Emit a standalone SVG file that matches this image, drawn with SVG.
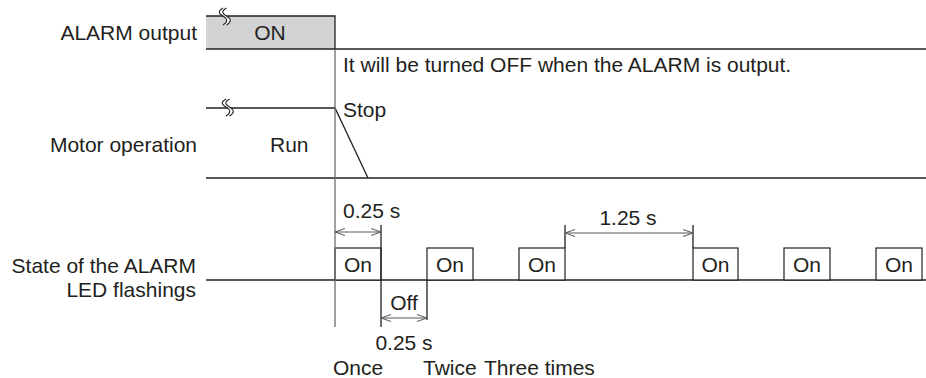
<svg xmlns="http://www.w3.org/2000/svg" width="926" height="378" viewBox="0 0 926 378">
<defs>
<style>
text{font-family:"Liberation Sans",Arial,sans-serif;font-size:21px;fill:#231f20}
.r{text-anchor:end}
.m{text-anchor:middle}
.ln{stroke:#231f20;stroke-width:1.3;fill:none}
.vl{stroke:#6d6e71;stroke-width:1.3;fill:none}
.dim{stroke:#58595b;stroke-width:1;fill:none;marker-start:url(#ah);marker-end:url(#ah)}
.box{fill:#fff;stroke:#231f20;stroke-width:1.2}
.brk{fill:none;stroke:#231f20;stroke-width:1.1}
</style>
<marker id="ah" viewBox="0 0 10 10" refX="10" refY="5" markerWidth="10" markerHeight="10" markerUnits="userSpaceOnUse" orient="auto-start-reverse">
<path d="M0,1.5 L10,5 L0,8.5" fill="none" stroke="#58595b" stroke-width="1"/>
</marker>
</defs>

<g id="labels">
<text class="r" x="197" y="40">ALARM output</text>
<text class="r" x="197" y="152">Motor operation</text>
<text class="r" x="196" y="273">State of the ALARM</text>
<text class="r" x="196" y="297">LED flashings</text>
</g>

<g id="alarm-output">
<rect x="206" y="16" width="129" height="33" fill="#d1d3d4"/>
<path class="ln" d="M206,16 H335 V49"/>
<path class="ln" d="M206,49 H926"/>
<path d="M223,8 c-5,3 -5,5 0,8 c5,3 5,6 0,9 h3.5 c5,-3 5,-6 0,-9 c-5,-3 -5,-5 0,-8 z" fill="#fff"/>
<path class="brk" d="M223,8 c-5,3 -5,5 0,8 c5,3 5,6 0,9 M226.5,8 c-5,3 -5,5 0,8 c5,3 5,6 0,9"/>
<text class="m" x="270" y="40">ON</text>
<text x="343" y="72">It will be turned OFF when the ALARM is output.</text>
</g>

<g id="motor-operation">
<path class="ln" d="M206,108 H335 L368,178"/>
<path class="ln" d="M206,178 H926"/>
<path d="M226,99 c-5,3 -5,5 0,8 c5,3 5,6 0,9 h3.5 c5,-3 5,-6 0,-9 c-5,-3 -5,-5 0,-8 z" fill="#fff"/>
<path class="brk" d="M226,99 c-5,3 -5,5 0,8 c5,3 5,6 0,9 M229.5,99 c-5,3 -5,5 0,8 c5,3 5,6 0,9"/>
<text x="343" y="117">Stop</text>
<text x="270" y="152">Run</text>
</g>

<g id="led-flashing">
<path class="ln" d="M206,280 H926"/>
<rect class="box" x="335" y="248" width="46" height="32"/>
<rect class="box" x="427" y="248" width="46" height="32"/>
<rect class="box" x="519" y="248" width="46" height="32"/>
<rect class="box" x="693" y="248" width="45" height="32"/>
<rect class="box" x="784" y="248" width="46" height="32"/>
<rect class="box" x="876" y="248" width="46" height="32"/>
<text class="m" x="358" y="272">On</text>
<text class="m" x="450" y="272">On</text>
<text class="m" x="542" y="272">On</text>
<text class="m" x="715.5" y="272">On</text>
<text class="m" x="807" y="272">On</text>
<text class="m" x="899" y="272">On</text>
<text class="m" x="404" y="310">Off</text>
</g>

<g id="connectors">
<path class="vl" d="M335,49 V327"/>
<path class="ln" d="M381,225 V327 M427,280 V320 M565,225 V248 M693,225 V248"/>
<path class="dim" d="M335,232 H381"/>
<path class="dim" d="M381,318 H427"/>
<path class="dim" d="M565,233 H693"/>
</g>

<g id="annotations">
<text x="343" y="218">0.25 s</text>
<text class="m" x="628" y="225">1.25 s</text>
<text class="m" x="404" y="350">0.25 s</text>
<text x="333" y="375">Once</text>
<text x="423" y="375">Twice</text>
<text x="484" y="375">Three times</text>
</g>
</svg>
